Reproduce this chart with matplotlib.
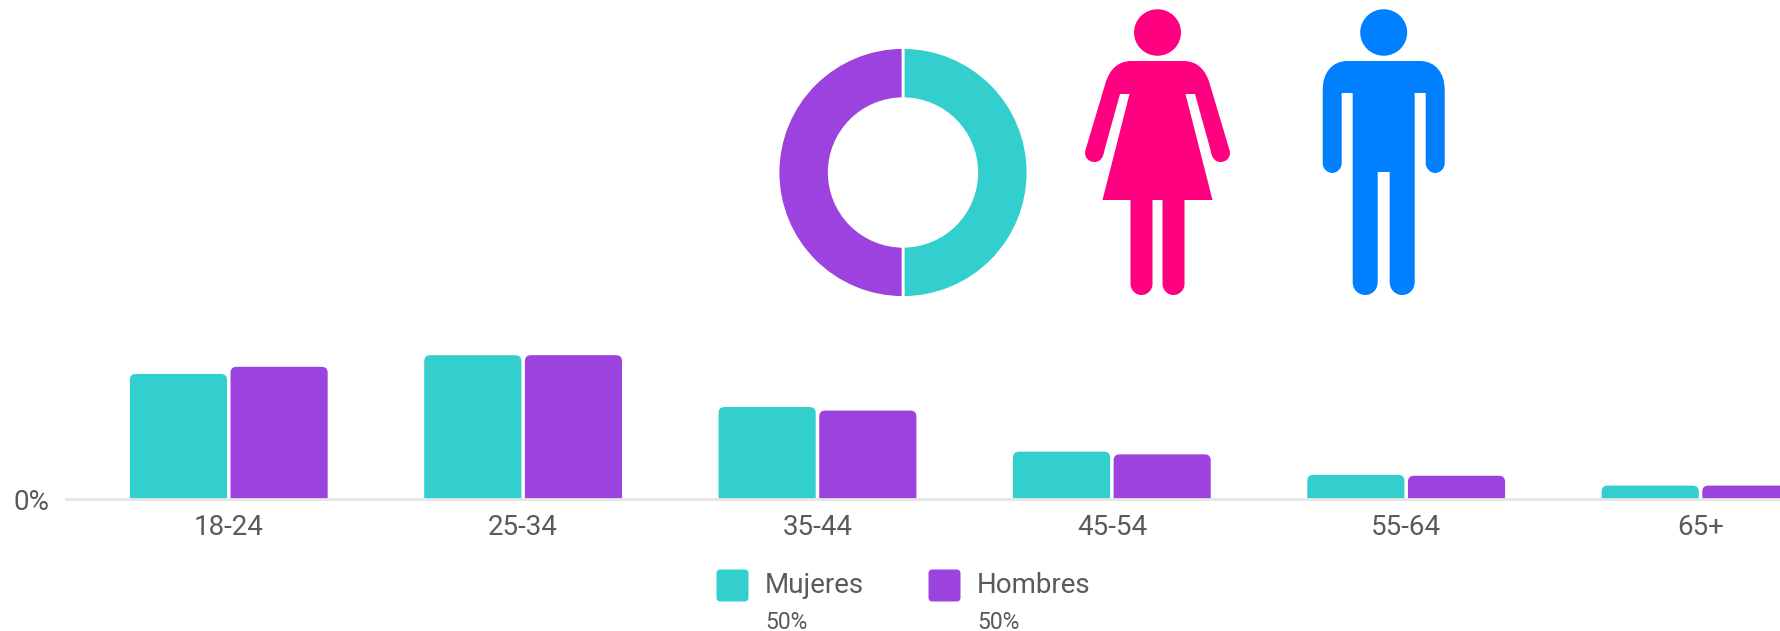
import matplotlib
matplotlib.use("Agg")
import matplotlib.pyplot as plt
import numpy as np
from matplotlib.patches import Ellipse, FancyBboxPatch, PathPatch
from matplotlib.path import Path

plt.rcParams["font.family"] = ["Roboto", "DejaVu Sans"]

W, H = 1780, 631

age_groups = ["18-24", "25-34", "35-44", "45-54", "55-64", "65+"]
mujeres = [14.0, 16.1, 10.3, 5.3, 2.7, 1.5]
hombres = [14.8, 16.1, 9.9, 5.0, 2.6, 1.5]
gender_names = ["Mujeres", "Hombres"]
gender_share = [50, 50]

TEAL = "#33CFCF"
PURPLE = "#9C42DF"
PINK = "#FF0080"
BLUE = "#0080FF"
TEXT = "#5A5A5A"


def px_axes(fig, left, top, right, bottom):
    return fig.add_axes([left / W, 1 - bottom / H, (right - left) / W, (bottom - top) / H])


def round_bars(ax, bars, radius_px):
    # swap the square bars for ones with rounded top corners
    x0, x1 = ax.get_xlim()
    y0, y1 = ax.get_ylim()
    box = ax.get_position()
    x_per_px = (x1 - x0) / (box.width * W)
    y_per_px = (y1 - y0) / (box.height * H)
    r = radius_px * x_per_px
    aspect = y_per_px / x_per_px
    for b in bars:
        drop = radius_px * 2 * y_per_px
        ax.add_patch(FancyBboxPatch(
            (b.get_x(), -drop), b.get_width(), b.get_height() + drop,
            boxstyle=f"round,pad=0,rounding_size={r}", mutation_aspect=aspect,
            facecolor=b.get_facecolor(), edgecolor="none", zorder=2))
        b.remove()


def mirrored_icon(cx, side):
    # side is a list of path steps for the right half, top to bottom
    verts = [(cx + dx, y) for _, dx, y in side]
    codes = [c for c, _, _ in side]
    rev = side[::-1]
    for i in range(len(rev) - 1):
        # walk back up the left half, keeping the curve codes attached
        verts.append((cx - rev[i + 1][1], rev[i + 1][2]))
        codes.append(rev[i][0])
    verts.append((cx, side[0][2]))
    codes.append(Path.CLOSEPOLY)
    return Path(verts, codes)


L, C4 = Path.LINETO, Path.CURVE4

woman_side = [
    (Path.MOVETO, 0, 61), (L, 26, 61), (C4, 40, 61), (C4, 48, 70), (C4, 52, 83),
    (L, 72, 150), (C4, 74, 157), (C4, 69, 162), (C4, 63, 162),
    (C4, 57, 162), (C4, 54, 157), (C4, 53, 150),
    (L, 37.5, 94), (L, 28, 94), (L, 55, 200), (L, 27, 200), (L, 27, 284),
    (C4, 27, 290), (C4, 22, 295), (C4, 16, 295),
    (C4, 10, 295), (C4, 5, 290), (C4, 5, 284), (L, 5, 200), (L, 0, 200),
]
man_side = [
    (Path.MOVETO, 0, 61), (L, 36, 61), (C4, 52, 61), (C4, 61, 73), (C4, 61, 90),
    (L, 61, 163), (C4, 61, 169), (C4, 56, 173), (C4, 51.5, 173),
    (C4, 47, 173), (C4, 42, 169), (C4, 42, 163),
    (L, 42, 93), (L, 31, 93), (L, 31, 282),
    (C4, 31, 290), (C4, 25, 295), (C4, 18.5, 295),
    (C4, 12, 295), (C4, 6, 290), (C4, 6, 282), (L, 6, 172), (L, 0, 172),
]

fig = plt.figure(figsize=(W / 100, H / 100), dpi=100, facecolor="white")

# grouped bars, cut off at the right edge like the source
ax = px_axes(fig, 66, 340, W, 499)
pos = np.arange(len(age_groups))
bar_w = 0.33
off = 0.171
bars_m = ax.bar(pos - off, mujeres, bar_w, color=TEAL)
bars_h = ax.bar(pos + off, hombres, bar_w, color=PURPLE)
ax.set_xlim(-0.553, 5.27)
ax.set_ylim(0, 17.8)
round_bars(ax, bars_m, 6)
round_bars(ax, bars_h, 6)
ax.set_xticks(pos, age_groups)
ax.set_yticks([0], ["0%"])
ax.tick_params(axis="x", length=0, labelsize=20, labelcolor=TEXT, pad=11)
ax.tick_params(axis="y", length=0, labelsize=20, labelcolor=TEXT, pad=12)
for s in ["top", "left", "right"]:
    ax.spines[s].set_visible(False)
ax.spines["bottom"].set_color("#E6E6E6")
ax.spines["bottom"].set_linewidth(2)
ax.spines["bottom"].set_zorder(3)
ax.patch.set_alpha(0)

# donut
ax_d = px_axes(fig, 903 - 125, 172.5 - 125, 903 + 125, 172.5 + 125)
ax_d.pie(gender_share, colors=[TEAL, PURPLE], startangle=90, counterclock=False, radius=1,
         wedgeprops={"width": 0.41, "edgecolor": "white", "linewidth": 2})
ax_d.set_xlim(-1, 1)
ax_d.set_ylim(-1, 1)

# icons and legend, in pixel coordinates
ov = fig.add_axes([0, 0, 1, 1])
ov.set_xlim(0, W)
ov.set_ylim(H, 0)
ov.axis("off")

for cx, side, col in [(1157.5, woman_side, PINK), (1383.7, man_side, BLUE)]:
    ov.add_patch(Ellipse((cx, 32.5), 47, 46.5, facecolor=col, edgecolor="none"))
    ov.add_patch(PathPatch(mirrored_icon(cx, side), facecolor=col, edgecolor="none"))

legend_x = [716.5, 928.5]
for x, name, share, col in zip(legend_x, gender_names, gender_share, [TEAL, PURPLE]):
    ov.add_patch(FancyBboxPatch((x, 569.5), 32, 32, boxstyle="round,pad=0,rounding_size=4",
                                facecolor=col, edgecolor="none"))
    ov.text(x + 48.5, 585.5, name, fontsize=20, color=TEXT, ha="left", va="center")
    ov.text(x + 48.5, 622.5, f"{share}%", fontsize=16.5, color=TEXT, ha="left", va="center")

fig.savefig("out.png", dpi=100)
